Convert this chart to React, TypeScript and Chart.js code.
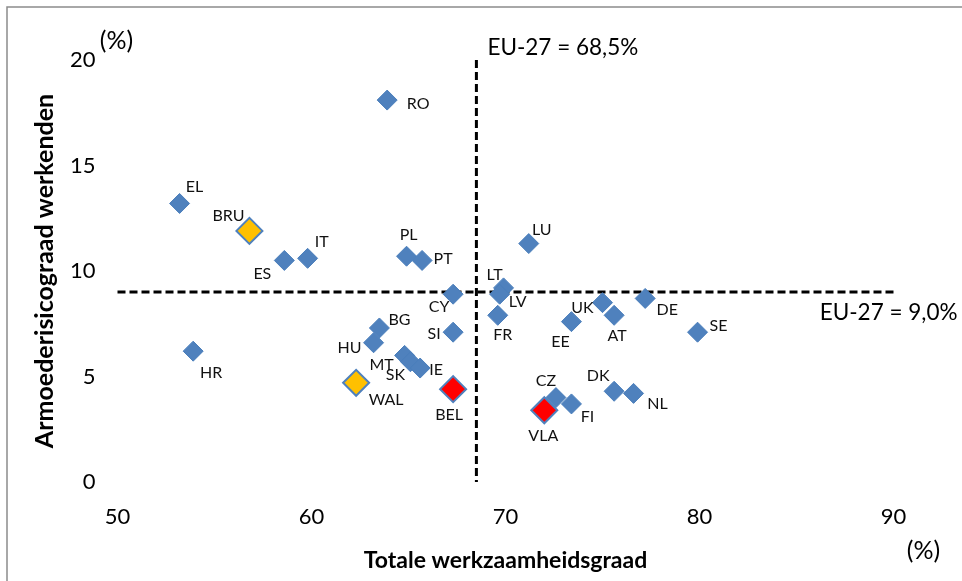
import React, { useEffect, useRef } from "react";
import { Chart, registerables } from "chart.js";

Chart.register(...registerables);

// ---- Data ----
const countries = ["RO", "EL", "IT", "ES", "PL", "PT", "LU", "LT", "LV", "CY", "FR", "SI", "BG", "HU", "HR", "MT", "SK", "IE", "CZ", "FI", "DK", "NL", "EE", "UK", "AT", "DE", "SE"];
const countryEmployment = [63.9, 53.2, 59.8, 58.6, 64.9, 65.7, 71.2, 69.9, 69.7, 67.3, 69.6, 67.3, 63.5, 63.2, 53.9, 64.8, 65.1, 65.6, 72.6, 73.4, 75.6, 76.6, 73.4, 75.0, 75.6, 77.2, 79.9];
const countryPoverty = [18.1, 13.2, 10.6, 10.5, 10.7, 10.5, 11.3, 9.2, 8.9, 8.9, 7.9, 7.1, 7.3, 6.6, 6.2, 6.0, 5.7, 5.4, 4.0, 3.7, 4.3, 4.2, 7.6, 8.5, 7.9, 8.7, 7.1];

const orangeRegions = ["BRU", "WAL"];
const orangeEmployment = [56.8, 62.3];
const orangePoverty = [11.9, 4.7];

const redRegions = ["BEL", "VLA"];
const redEmployment = [67.3, 72.0];
const redPoverty = [4.4, 3.4];

const euEmployment = 68.5;
const euPoverty = 9.0;
const euEmploymentLabel = "EU-27 = 68,5%";
const euPovertyLabel = "EU-27 = 9,0%";

const xTitle = "Totale werkzaamheidsgraad";
const yTitle = "Armoederisicograad werkenden";
const unitLabel = "(%)";

// label offsets (pixels, label centre relative to marker centre) - styling only
const labelOffsets: Record<string, [number, number]> = {
  RO: [31, 4], EL: [15, -17], IT: [14, -16], ES: [-22, 13], PL: [2, -21], PT: [21, -2],
  LU: [13, -14], LT: [-9, -13], LV: [18, 8], CY: [-14, 13], FR: [5, 20], SI: [-19, 2],
  BG: [20, -8], HU: [-24, 5], HR: [18, 22], MT: [-23, 9], SK: [-15, 13], IE: [16, 2],
  CZ: [-10, -17], FI: [16, 13], DK: [-16, -15], NL: [24, 10], EE: [-11, 20], UK: [-20, 5],
  AT: [3, 21], DE: [22, 11], SE: [21, -6], BRU: [-21, -15], WAL: [30, 17], BEL: [-4, 26], VLA: [-1, 26],
};

const FONT = "Lato, 'Open Sans', sans-serif";

const toPoints = (xs: number[], ys: number[]) => xs.map((x, i) => ({ x, y: ys[i] }));

const overlayPlugin = {
  id: "overlay",
  beforeDraw(chart: any) {
    const ctx = chart.ctx;
    ctx.save();
    ctx.strokeStyle = "#8c8c8c";
    ctx.lineWidth = 1.5;
    ctx.beginPath();
    ctx.moveTo(7, chart.height);
    ctx.lineTo(7, 7);
    ctx.lineTo(chart.width, 7);
    ctx.stroke();
    ctx.restore();
  },
  beforeDatasetsDraw(chart: any) {
    const { ctx, scales } = chart;
    const xs = scales.x, ys = scales.y;
    ctx.save();
    ctx.strokeStyle = "#000";
    ctx.lineWidth = 3;
    ctx.setLineDash([8, 4]);
    const vx = xs.getPixelForValue(euEmployment);
    ctx.beginPath();
    ctx.moveTo(vx, ys.getPixelForValue(ys.max));
    ctx.lineTo(vx, ys.getPixelForValue(ys.min));
    ctx.stroke();
    const hy = ys.getPixelForValue(euPoverty);
    ctx.beginPath();
    ctx.moveTo(xs.getPixelForValue(xs.min), hy);
    ctx.lineTo(xs.getPixelForValue(xs.max), hy);
    ctx.stroke();
    ctx.restore();
  },
  afterDatasetsDraw(chart: any) {
    const { ctx } = chart;
    ctx.save();
    ctx.font = `16px ${FONT}`;
    ctx.fillStyle = "#111";
    ctx.textAlign = "center";
    ctx.textBaseline = "middle";
    chart.data.datasets.forEach((ds: any, di: number) => {
      const meta = chart.getDatasetMeta(di);
      meta.data.forEach((el: any, i: number) => {
        const name = ds.names[i];
        const off = labelOffsets[name] || [15, 0];
        ctx.fillText(name, el.x + off[0], el.y + off[1]);
      });
    });
    ctx.restore();
  },
  afterDraw(chart: any) {
    const { ctx, chartArea, scales } = chart;
    ctx.save();
    ctx.font = `25px ${FONT}`;
    ctx.fillStyle = "#000";
    ctx.textBaseline = "middle";
    ctx.textAlign = "center";
    ctx.fillText(unitLabel, chartArea.left - 1, chartArea.top - 19);
    ctx.fillText(unitLabel, chartArea.right + 30, chartArea.bottom + 69);
    ctx.textAlign = "left";
    const vx = scales.x.getPixelForValue(euEmployment);
    ctx.font = `22.5px ${FONT}`;
    ctx.fillText(euEmploymentLabel, vx + 11, chartArea.top - 12);
    const hy = scales.y.getPixelForValue(euPoverty);
    ctx.textAlign = "right";
    ctx.fillText(euPovertyLabel, chartArea.right + 64, hy + 21);
    ctx.restore();
  },
};

export default function App() {
  const ref = useRef<HTMLCanvasElement | null>(null);
  useEffect(() => {
    if (!ref.current) return;
    const chart = new Chart(ref.current, {
      type: "scatter",
      data: {
        datasets: [
          {
            label: "Landen",
            names: countries,
            data: toPoints(countryEmployment, countryPoverty),
            pointStyle: "rectRot",
            pointRadius: 10,
            pointHoverRadius: 10,
            backgroundColor: "#4F81BD",
            borderColor: "#4A7EBB",
            borderWidth: 1,
          } as any,
          {
            label: "BRU/WAL",
            names: orangeRegions,
            data: toPoints(orangeEmployment, orangePoverty),
            pointStyle: "rectRot",
            pointRadius: 13,
            pointHoverRadius: 13,
            backgroundColor: "#FFC000",
            borderColor: "#4F81BD",
            borderWidth: 2,
          } as any,
          {
            label: "BEL/VLA",
            names: redRegions,
            data: toPoints(redEmployment, redPoverty),
            pointStyle: "rectRot",
            pointRadius: 13,
            pointHoverRadius: 13,
            backgroundColor: "#FF0000",
            borderColor: "#4F81BD",
            borderWidth: 2,
          } as any,
        ],
      },
      options: {
        animation: false,
        responsive: false,
        events: [],
        layout: { padding: { left: 0, top: 60, right: 68.5, bottom: 0 } },
        plugins: { legend: { display: false }, tooltip: { enabled: false } },
        scales: {
          x: {
            type: "linear",
            min: 50,
            max: 90,
            grid: { display: false, drawTicks: false },
            border: { display: false },
            ticks: { stepSize: 10, padding: 22, color: "#000", font: { family: FONT, size: 22 } },
            title: {
              display: true,
              text: xTitle,
              color: "#000",
              font: { family: FONT, size: 23, weight: "bold" },
              padding: { top: 0, bottom: 7 },
            },
            afterFit: (s: any) => { s.height = 99; },
          },
          y: {
            type: "linear",
            min: 0,
            max: 20,
            grid: { display: false, drawTicks: false },
            border: { display: false },
            ticks: { stepSize: 5, padding: 22, color: "#000", font: { family: FONT, size: 22 } },
            title: {
              display: true,
              text: yTitle,
              color: "#000",
              font: { family: FONT, size: 25, weight: "bold" },
              padding: { top: 30, bottom: 0 },
            },
            afterFit: (s: any) => { s.width = 117.5; },
          },
        },
      } as any,
      plugins: [overlayPlugin],
    });
    return () => chart.destroy();
  }, []);
  return (
    <div style={{ position: "fixed", left: 0, top: 0, width: 962, height: 581, background: "#fff" }}>
      <canvas ref={ref} width={962} height={581} style={{ width: 962, height: 581, display: "block" }} />
    </div>
  );
}
